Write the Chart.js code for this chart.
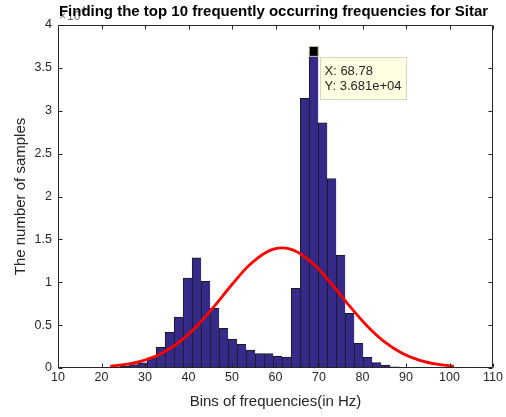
<!DOCTYPE html>
<html>
<head>
<meta charset="utf-8">
<script src="https://cdn.jsdelivr.net/npm/chart.js@4"></script>
<style>
  html, body { margin: 0; padding: 0; background: #fff; }
  #wrap { width: 506px; height: 417px; }
</style>
</head>
<body>
<div id="wrap"><canvas id="histChart" width="506" height="417"></canvas></div>
<script>
// histogram bins (Hz) and counts, counts in units of 1e4
const binCenters = [23.24, 25.31, 27.38, 29.45, 31.52, 33.59, 35.66, 37.73, 39.80, 41.87,
  43.94, 46.01, 48.08, 50.15, 52.22, 54.29, 56.36, 58.43, 60.50, 62.57,
  64.64, 66.71, 68.78, 70.85, 72.92, 74.99, 77.06, 79.13, 81.20, 83.27, 85.34, 87.41];
const counts = [0.01, 0.02, 0.04, 0.06, 0.12, 0.24, 0.416, 0.595, 1.05, 1.286,
  1.01, 0.696, 0.463, 0.338, 0.276, 0.21, 0.167, 0.167, 0.14, 0.128,
  0.93, 3.145, 3.681, 2.86, 2.21, 1.318, 0.638, 0.288, 0.125, 0.062, 0.035, 0.015];

// normal fit curve
const fitX = [22, 26, 30, 34, 38, 42, 46, 50, 54, 58, 61.5, 65, 69, 73, 77, 81, 85, 89, 93, 97, 101];
const fitY = [0.019, 0.044, 0.092, 0.176, 0.308, 0.493, 0.724, 0.974, 1.200, 1.354, 1.400,
  1.354, 1.200, 0.974, 0.724, 0.493, 0.308, 0.176, 0.092, 0.044, 0.019];

// axis ticks
const xTicks = [10, 20, 30, 40, 50, 60, 70, 80, 90, 100, 110];
const yTicks = [0, 0.5, 1, 1.5, 2, 2.5, 3, 3.5, 4];
const yTickLabels = ['0', '0.5', '1', '1.5', '2', '2.5', '3', '3.5', '4'];

// data tip
const tipX = 68.78;
const tipY = 3.681;
const tipLines = ['X: 68.78', 'Y: 3.681e+04'];

const TITLE = 'Finding the top 10 frequently occurring frequencies for Sitar';
const FONT = '"Liberation Sans", Arial, Helvetica, sans-serif';
const TXT = '#262626';

// --- axes box, inward ticks, title, exponent, datatip ---
const matlabExtras = {
  id: 'matlabExtras',
  afterDatasetsDraw(chart) {
    const { ctx, chartArea: a, scales: { x, y } } = chart;
    const L = Math.round(a.left) + 0.5, R = Math.round(a.right) - 0.5;
    const T = Math.round(a.top) + 0.5, B = Math.round(a.bottom) - 0.5;
    ctx.save();
    ctx.strokeStyle = TXT;
    ctx.lineWidth = 1;
    ctx.beginPath();
    ctx.moveTo(L, T); ctx.lineTo(R, T); ctx.lineTo(R, B); ctx.lineTo(L, B); ctx.closePath();
    xTicks.forEach(v => {
      const px = Math.round(x.getPixelForValue(v)) + 0.5;
      ctx.moveTo(px, B); ctx.lineTo(px, B - 4);
      ctx.moveTo(px, T); ctx.lineTo(px, T + 4);
    });
    yTicks.forEach(v => {
      const py = Math.round(y.getPixelForValue(v)) + 0.5;
      ctx.moveTo(L, py); ctx.lineTo(L + 4, py);
      ctx.moveTo(R, py); ctx.lineTo(R - 4, py);
    });
    ctx.stroke();
    ctx.restore();
  },
  afterDraw(chart) {
    const { ctx, chartArea: a, scales: { x, y } } = chart;
    ctx.save();

    // exponent label x10^4 (partly under the title, as in the original)
    ctx.fillStyle = '#6a6a6a';
    ctx.textBaseline = 'alphabetic';
    ctx.textAlign = 'left';
    ctx.font = '12px ' + FONT;
    ctx.fillText('\u00d7', a.left + 1, 20);
    ctx.fillText('10', a.left + 9, 20);
    ctx.font = '9px ' + FONT;
    ctx.fillText('4', a.left + 23, 12);

    // title
    ctx.fillStyle = '#000';
    ctx.font = 'bold 15px ' + FONT;
    ctx.textAlign = 'center';
    ctx.textBaseline = 'middle';
    ctx.fillText(TITLE, (a.left + a.right) / 2 - 2, 12);

    // datatip
    const px = x.getPixelForValue(tipX);
    const py = y.getPixelForValue(tipY);
    ctx.fillStyle = '#000';
    ctx.strokeStyle = '#c8c8a8';
    ctx.lineWidth = 1;
    ctx.fillRect(px - 4.5, py - 6, 9, 10);
    ctx.strokeRect(px - 4.5, py - 6, 9, 10);

    const bx = Math.round(px + 6.5) + 0.5, by = Math.round(py + 5) + 0.5;
    ctx.fillStyle = '#ffffe1';
    ctx.strokeStyle = '#d6d6c4';
    ctx.fillRect(bx, by, 86, 42);
    ctx.strokeRect(bx, by, 86, 42);
    ctx.fillStyle = TXT;
    ctx.font = '13px ' + FONT;
    ctx.textAlign = 'left';
    ctx.textBaseline = 'middle';
    tipLines.forEach((s, i) => ctx.fillText(s, bx + 4, by + 14 + i * 14.5));

    ctx.restore();
  }
};

const ctx = document.getElementById('histChart').getContext('2d');

const chart = new Chart(ctx, {
  type: 'bar',
  data: {
    datasets: [
      {
        type: 'line',
        label: 'fit',
        data: fitX.map((v, i) => ({ x: v, y: fitY[i] })),
        borderColor: '#ff0000',
        borderWidth: 2.8,
        pointRadius: 0,
        cubicInterpolationMode: 'monotone',
        fill: false,
        order: 0
      },
      {
        label: 'counts',
        data: binCenters.map((v, i) => ({ x: v, y: counts[i] })),
        backgroundColor: '#352a87',
        borderColor: '#1a1a1a',
        borderWidth: { top: 1, left: 1, right: 0, bottom: 0 },
        barPercentage: 1,
        categoryPercentage: 1,
        order: 1
      }
    ]
  },
  options: {
    responsive: false,
    devicePixelRatio: 1,
    animation: false,
    layout: { padding: { left: 0, right: 13, top: 25, bottom: 0 } },
    plugins: { legend: { display: false }, tooltip: { enabled: false }, title: { display: false } },
    scales: {
      x: {
        type: 'linear',
        offset: false,
        min: 10,
        max: 110,
        afterBuildTicks: s => { s.ticks = xTicks.map(v => ({ value: v })); },
        ticks: { color: TXT, font: { family: FONT, size: 12.5 }, padding: 2, maxRotation: 0, autoSkip: false },
        grid: { display: false, drawTicks: false },
        border: { display: false },
        title: { display: true, text: 'Bins of frequencies(in Hz)', color: TXT,
                 font: { family: FONT, size: 15 }, padding: { top: 0, bottom: 6 } },
        afterFit: s => { s.height = 49; }
      },
      y: {
        min: 0,
        max: 4,
        afterBuildTicks: s => { s.ticks = yTicks.map(v => ({ value: v })); },
        ticks: { color: TXT, font: { family: FONT, size: 12.5 }, padding: 6,
                 callback: (v, i) => yTickLabels[i] },
        grid: { display: false, drawTicks: false },
        border: { display: false },
        title: { display: true, text: 'The number of samples', color: TXT,
                 font: { family: FONT, size: 15 }, padding: { top: 12, bottom: 0 } },
        afterFit: s => { s.width = 58; }
      }
    }
  },
  plugins: [matlabExtras]
});
</script>
</body>
</html>
